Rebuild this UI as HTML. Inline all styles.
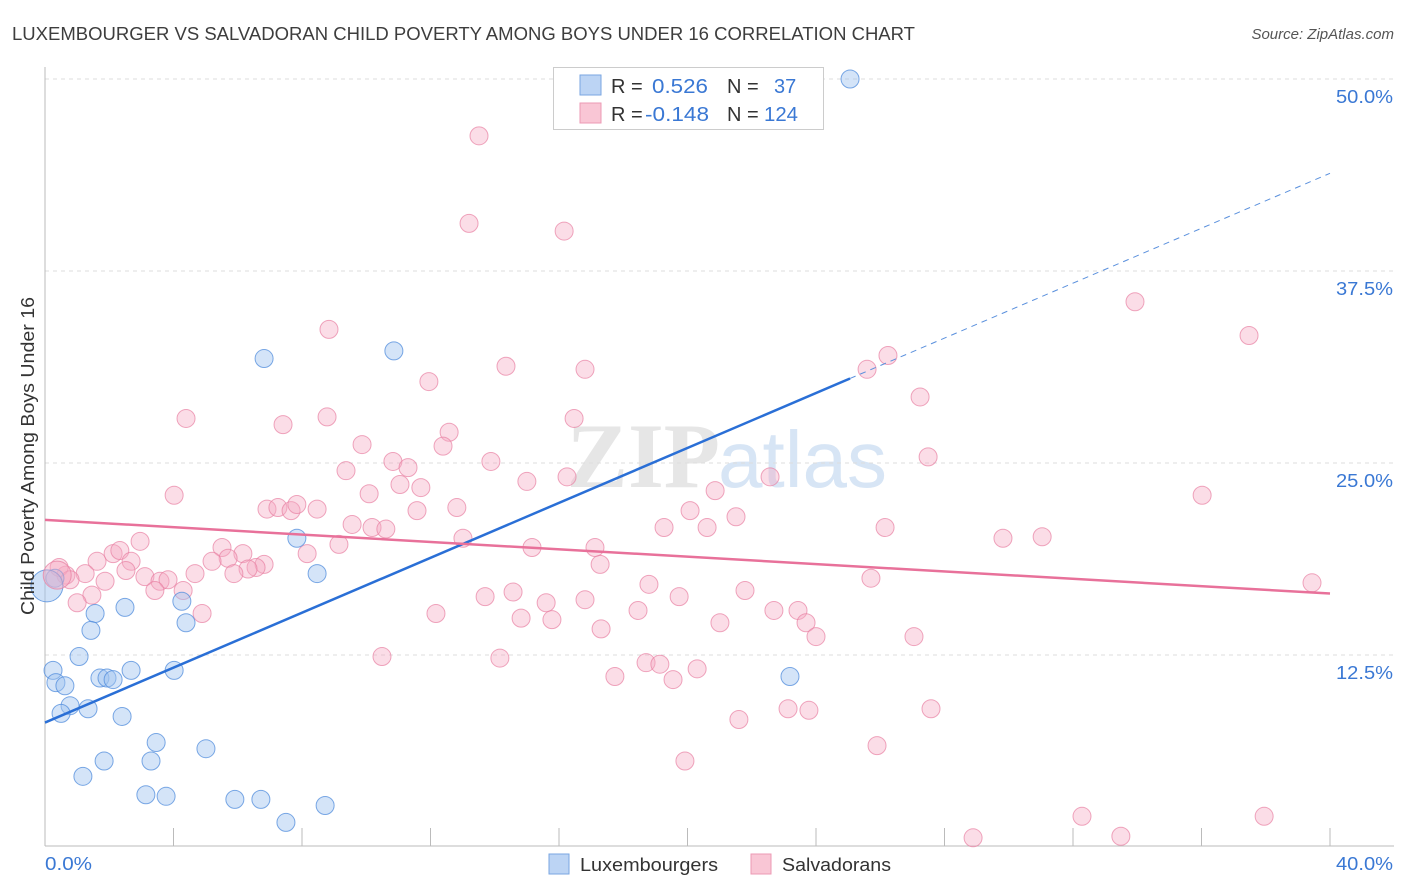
<!DOCTYPE html>
<html><head><meta charset="utf-8"><style>
body{margin:0;background:#fff;font-family:"Liberation Sans",sans-serif;}
svg{display:block}
</style></head><body>
<svg id="chart" width="1406" height="892" xmlns="http://www.w3.org/2000/svg">
<text x="12" y="40" font-size="18" fill="#3d3d3d" textLength="903" lengthAdjust="spacingAndGlyphs">LUXEMBOURGER VS SALVADORAN CHILD POVERTY AMONG BOYS UNDER 16 CORRELATION CHART</text>
<text x="1394" y="39" font-size="15" fill="#555" font-style="italic" text-anchor="end">Source: ZipAtlas.com</text>
<text x="720" y="487" font-size="92" font-family="Liberation Serif,serif" fill="#e6e6e6" text-anchor="end" font-weight="bold">ZIP</text>
<text x="718" y="487" font-size="80" fill="#d7e5f5">atlas</text>
<g id="grid"></g>
<g id="axes"></g>
<g id="marks"></g>
<g id="lines"></g>
<text transform="translate(34,456) rotate(-90)" font-size="18" fill="#333" text-anchor="middle" textLength="318" lengthAdjust="spacingAndGlyphs">Child Poverty Among Boys Under 16</text>
<g>
<rect x="553.5" y="67.5" width="270" height="62" fill="#fff" stroke="#ccc"/>
<rect x="580" y="75" width="21" height="20" fill="#bcd4f4" stroke="#7aa6e2"/>
<rect x="580" y="103" width="21" height="20" fill="#f9c6d5" stroke="#ec9ab4"/>
<text x="611" y="93" font-size="20" fill="#333">R =</text>
<text x="652" y="93" font-size="20" fill="#3a78d4" textLength="56" lengthAdjust="spacingAndGlyphs">0.526</text>
<text x="727" y="93" font-size="20" fill="#333">N =</text>
<text x="774" y="93" font-size="20" fill="#3a78d4">37</text>
<text x="611" y="121" font-size="20" fill="#333">R =</text>
<text x="645" y="121" font-size="20" fill="#3a78d4" textLength="64" lengthAdjust="spacingAndGlyphs">-0.148</text>
<text x="727" y="121" font-size="20" fill="#333">N =</text>
<text x="764" y="121" font-size="20" fill="#3a78d4" textLength="34" lengthAdjust="spacingAndGlyphs">124</text>
</g>
<g>
<rect x="549" y="854" width="20" height="20" fill="#bcd4f4" stroke="#7aa6e2"/>
<text x="580" y="871" font-size="18.5" fill="#333" textLength="138" lengthAdjust="spacingAndGlyphs">Luxembourgers</text>
<rect x="751" y="854" width="20" height="20" fill="#f9c6d5" stroke="#ec9ab4"/>
<text x="782" y="871" font-size="18.5" fill="#333" textLength="109" lengthAdjust="spacingAndGlyphs">Salvadorans</text>
</g>
</svg>
<script>
const blueX=[25.06,6.82,10.86,7.84,8.47,1.56,2.49,4.26,1.43,4.39,1.06,0.25,2.68,4.02,0.34,0.62,1.71,1.93,2.12,0.78,1.34,0.50,2.40,3.46,5.01,1.84,3.30,1.18,3.14,3.77,5.91,6.72,8.72,7.50,23.19,0.31];
const blueY=[50.0,31.8,32.3,20.1,17.8,15.2,15.6,16.0,14.1,14.6,12.4,11.5,11.5,11.5,10.7,10.5,11.0,11.0,10.9,9.2,9.0,8.7,8.5,6.8,6.4,5.6,5.6,4.6,3.4,3.3,3.1,3.1,2.7,1.6,11.1,17.5];
const pinkX=[13.51,13.20,16.16,8.84,33.93,37.48,26.24,25.59,14.35,16.81,11.95,27.24,4.39,7.41,8.78,16.47,9.87,12.58,12.39,10.83,11.30,13.88,9.37,27.49,22.57,15.00,16.25,11.05,11.70,20.86,4.02,10.09,36.02,6.91,7.25,7.66,7.84,8.47,11.58,12.82,20.08,9.56,10.18,10.61,21.51,19.27,20.61,26.15,29.82,31.04,13.01,2.96,5.51,9.15,8.16,15.16,17.12,2.12,2.33,6.16,5.70,5.20,6.82,6.57,6.32,2.68,1.62,17.28,5.88,4.67,3.11,2.52,0.65,1.25,0.44,0.78,1.87,3.58,3.83,39.44,25.71,18.80,3.42,4.30,13.70,14.57,21.79,19.74,1.46,1.00,15.60,16.81,12.17,18.46,22.69,23.44,4.89,14.82,15.78,21.01,23.69,17.31,24.00,27.05,10.49,14.16,18.71,19.14,20.30,17.74,19.55,23.13,23.78,27.58,21.60,25.90,19.92,32.28,37.95,33.49,28.89];
const pinkY=[46.3,40.6,40.1,33.7,35.5,33.3,32.0,31.1,31.3,31.1,30.3,29.3,27.9,27.5,28.0,27.9,26.2,27.0,26.1,25.1,24.7,25.1,24.5,25.4,24.1,23.8,24.1,23.6,23.4,23.2,22.9,23.0,22.9,22.0,22.1,21.9,22.3,22.0,21.9,22.1,21.9,21.0,20.8,20.7,21.5,20.8,20.8,20.8,20.1,20.2,20.1,19.9,19.5,19.7,19.1,19.5,19.5,19.1,19.3,19.1,18.8,18.6,18.4,18.2,18.1,18.6,18.6,18.4,17.8,17.8,17.6,18.0,17.7,17.8,18.2,17.4,17.3,17.3,17.4,17.2,17.5,17.1,16.7,16.7,16.3,16.6,16.7,16.3,16.4,15.9,15.9,16.1,15.2,15.4,15.4,15.4,15.2,14.9,14.8,14.6,14.6,14.2,13.7,13.7,12.4,12.3,12.0,11.9,11.6,11.1,10.9,9.0,8.9,9.0,8.3,6.6,5.6,2.0,2.0,0.7,0.6];
const bigBlue=[0.06,17.0];
const bigPink=[0.38,17.7];
const blueTrend=[8.1,0.894];
const pinkTrend=[21.3,-0.12];
const yTicks=[12.5,25.0,37.5,50.0];
const yTickLabels=["12.5%","25.0%","37.5%","50.0%"];
const xTicks=[0,4,8,12,16,20,24,28,32,36,40];

const NS="http://www.w3.org/2000/svg";
const X=v=>45+v*32.125;
const Y=v=>847-v*15.36;
function mk(tag,attrs,parent){const e=document.createElementNS(NS,tag);for(const k in attrs)e.setAttribute(k,attrs[k]);document.getElementById(parent).appendChild(e);return e;}

yTicks.forEach((t,i)=>{
  const g=mk('line',{x1:45,x2:1394,y1:Y(t),y2:Y(t),stroke:'#ddd','stroke-dasharray':'4,4'},'grid');
  
  
  const l=mk('text',{x:1393,y:Y(t)+24,'font-size':18,fill:'#3a78d4','text-anchor':'end',textLength:57,lengthAdjust:'spacingAndGlyphs'},'axes');
  l.textContent=yTickLabels[i];
  
  
});
const ax=mk('line',{x1:45,x2:45,y1:67,y2:846,stroke:'#bbb'},'axes');


const bx=mk('line',{x1:45,x2:1394,y1:846,y2:846,stroke:'#bbb'},'axes');


xTicks.forEach(t=>{
  const k=mk('line',{x1:X(t),x2:X(t),y1:828,y2:846,stroke:'#bbb'},'axes');
  
  
});
const xl0=mk('text',{x:45,y:870,'font-size':18,fill:'#3a78d4',textLength:47,lengthAdjust:'spacingAndGlyphs'},'axes');
xl0.textContent='0.0%';


const xl1=mk('text',{x:1393,y:870,'font-size':18,fill:'#3a78d4','text-anchor':'end',textLength:57,lengthAdjust:'spacingAndGlyphs'},'axes');
xl1.textContent='40.0%';



pinkX.forEach((v,i)=>{
  const c=mk('circle',{cx:X(v),cy:Y(pinkY[i]),r:9,fill:'rgba(246,170,195,0.4)',stroke:'rgba(232,128,163,0.7)','stroke-width':1},'marks');
  
  
});
blueX.forEach((v,i)=>{
  const c=mk('circle',{cx:X(v),cy:Y(blueY[i]),r:9,fill:'rgba(160,196,240,0.45)',stroke:'rgba(80,140,220,0.75)','stroke-width':1},'marks');
  
  
});
const bb=mk('circle',{cx:X(bigBlue[0]),cy:Y(bigBlue[1]),r:16,fill:'rgba(160,196,240,0.5)',stroke:'rgba(80,140,220,0.8)'},'marks');


const bp=mk('circle',{cx:X(bigPink[0]),cy:Y(bigPink[1]),r:14,fill:'rgba(246,170,195,0.45)',stroke:'rgba(232,128,163,0.75)'},'marks');



const bEnd=25.06;
const t1=mk('line',{x1:X(0),y1:Y(blueTrend[0]),x2:X(bEnd),y2:Y(blueTrend[0]+blueTrend[1]*bEnd),stroke:'#2a6fd6','stroke-width':2.5},'lines');


const t2=mk('line',{x1:X(bEnd),y1:Y(blueTrend[0]+blueTrend[1]*bEnd),x2:X(40),y2:Y(blueTrend[0]+blueTrend[1]*40),stroke:'#5a90dd','stroke-width':1,'stroke-dasharray':'6,5'},'lines');


const t3=mk('line',{x1:X(0),y1:Y(pinkTrend[0]),x2:X(40),y2:Y(pinkTrend[0]+pinkTrend[1]*40),stroke:'#e8719a','stroke-width':2.5},'lines');


</script>
</body></html>
